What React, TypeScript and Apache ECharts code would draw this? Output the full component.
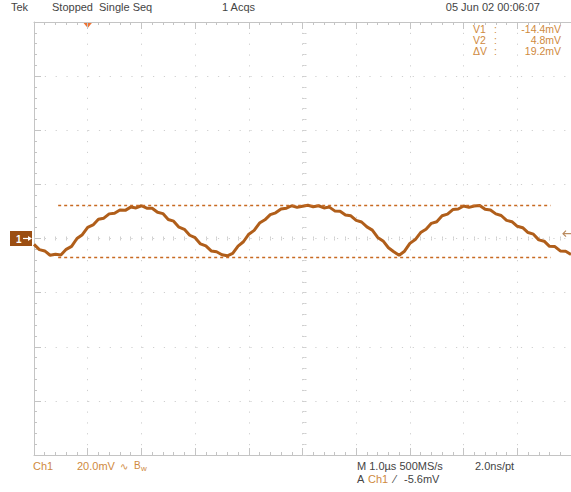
import React, { useEffect, useRef } from 'react';
import * as echarts from 'echarts';

// ---- acquisition data (Ch1, mV), one sample per 0.1 µs starting at -1.0 µs ----
const T_START_US = -1.0;
const T_STEP_US = 0.1;
const CH1_MV = [
  -9.6, -11.5, -12.0, -13.6, -13.2, -13.5, -11.4, -10.3, -7.4, -6.0,
  -3.3, -2.4, -0.3, 0.1, 1.7, 1.9, 3.1, 3.0, 4.2, 3.9,
  4.7, 3.8, 3.8, 2.3, 1.8, -0.4, -1.0, -3.2, -4.0, -6.2,
  -7.1, -9.4, -10.1, -12.0, -12.3, -13.4, -13.8, -12.9, -10.2, -8.6,
  -5.8, -4.4, -1.7, -0.5, 1.4, 2.1, 3.5, 3.8, 4.7, 4.1,
  4.5, 4.9, 4.3, 4.7, 3.9, 4.2, 2.8, 2.7, 1.3, 1.0,
  -0.7, -1.3, -3.1, -4.3, -7.0, -8.3, -10.8, -12.3, -13.6, -12.1,
  -9.2, -7.8, -5.2, -4.0, -1.8, -1.2, 1.0, 1.6, 3.3, 3.5,
  4.6, 4.1, 4.6, 4.8, 3.4, 3.1, 1.7, 1.1, -0.7, -1.2,
  -2.9, -3.4, -5.2, -5.8, -7.9, -8.4, -10.3, -10.4, -12.0, -12.1,
  -13.3,
];

// ---- scope settings ----
const X_MIN_US = -1;
const X_MAX_US = 9;
const TIME_DIV_US = 1;
const VOLT_DIV_MV = 20;
const DIVS_V = 8;
const SCREEN_CENTER_MV = -7.4;
const CURSOR_V1_MV = -14.4;
const CURSOR_V2_MV = 4.8;
const CURSOR_SPAN_US = [-0.55, 8.62];
const TRIGGER_LEVEL_MV = -5.6;

// ---- texts ----
const HEADER = ['Tek', 'Stopped', 'Single Seq', '1 Acqs', '05 Jun 02 00:06:07'];
const READOUT_LABELS = ['V1', 'V2', 'ΔV'];
const READOUT_VALUES = ['-14.4mV', '4.8mV', '19.2mV'];
const FOOTER = ['Ch1', '20.0mV', '∿', 'B', 'w', 'M 1.0µs 500MS/s', '2.0ns/pt', 'A', 'Ch1', '⁄', '-5.6mV'];

const FONT = '"Liberation Sans", Arial, sans-serif';
const FRAME = '#c4c4c4';
const DOTS = '#cfcfcf';
const ORANGE_TXT = '#cf8a3e';
const GRAY_TXT = '#444444';
const CURSOR_COLOR = '#c86a22';

function txt(text: string, x: number, y: number, fill: string, size = 11, align = 'left') {
  return {
    type: 'text',
    x,
    y,
    silent: true,
    style: {
      text,
      fill,
      font: `${size}px ${FONT}`,
      textAlign: align,
      align,
      textVerticalAlign: 'middle',
      verticalAlign: 'middle',
    },
  };
}

function frameAxis(extra: any) {
  return {
    type: 'value',
    axisLine: { show: true, onZero: false, lineStyle: { color: FRAME, width: 1 } },
    axisTick: { show: true, inside: true, length: 7, lineStyle: { color: FRAME } },
    minorTick: { show: true, splitNumber: 5, length: 3, lineStyle: { color: FRAME } },
    axisLabel: { show: false },
    splitLine: { show: false },
    ...extra,
  };
}

function centerAxis(extra: any, inside: boolean) {
  return {
    type: 'value',
    axisLine: { show: false, onZero: false },
    axisTick: { show: true, inside, length: 2, lineStyle: { color: DOTS } },
    minorTick: { show: true, splitNumber: 5, length: 2, lineStyle: { color: DOTS } },
    axisLabel: { show: false },
    splitLine: { show: false },
    ...extra,
  };
}

const dotted = { show: true, lineStyle: { color: DOTS, width: 1, type: [1.2, 9.62] } };
const halfV = (DIVS_V / 2) * VOLT_DIV_MV;
const cursorStyle = { color: CURSOR_COLOR, type: [3, 3], width: 1.3, opacity: 1 };

export default function App() {
  const ref = useRef<HTMLDivElement>(null);
  useEffect(() => {
    const chart = echarts.init(ref.current!, undefined, { renderer: 'svg' });
    const data = CH1_MV.map((v, i) => [T_START_US + i * T_STEP_US, v]);
    chart.setOption({
      animation: false,
      backgroundColor: '#ffffff',
      grid: { left: 34, top: 22, width: 541, height: 433, containLabel: false },
      xAxis: [
        frameAxis({ min: X_MIN_US, max: X_MAX_US, interval: TIME_DIV_US, position: 'bottom', splitLine: dotted }),
        frameAxis({ min: X_MIN_US, max: X_MAX_US, interval: TIME_DIV_US, position: 'top' }),
        centerAxis({ min: X_MIN_US, max: X_MAX_US, interval: TIME_DIV_US, position: 'bottom', offset: -216.5 }, true),
        centerAxis({ min: X_MIN_US, max: X_MAX_US, interval: TIME_DIV_US, position: 'bottom', offset: -216.5 }, false),
      ],
      yAxis: [
        frameAxis({ min: -DIVS_V / 2, max: DIVS_V / 2, interval: 1, position: 'left', splitLine: dotted }),
        { type: 'value', show: false, min: SCREEN_CENTER_MV - halfV, max: SCREEN_CENTER_MV + halfV },
        centerAxis({ min: -DIVS_V / 2, max: DIVS_V / 2, interval: 1, position: 'left', offset: -270.5 }, true),
        centerAxis({ min: -DIVS_V / 2, max: DIVS_V / 2, interval: 1, position: 'left', offset: -270.5 }, false),
      ],
      series: [
        {
          type: 'line',
          xAxisIndex: 0,
          yAxisIndex: 1,
          data,
          symbol: 'none',
          showSymbol: false,
          silent: true,
          z: 3,
          lineStyle: { color: '#b05e1a', width: 3 },
          markLine: {
            silent: true,
            symbol: 'none',
            label: { show: false },
            emphasis: { disabled: true },
            lineStyle: cursorStyle,
            data: [
              [
                { coord: [CURSOR_SPAN_US[0], CURSOR_V2_MV], lineStyle: cursorStyle },
                { coord: [CURSOR_SPAN_US[1], CURSOR_V2_MV] },
              ],
              [
                { coord: [CURSOR_SPAN_US[0], CURSOR_V1_MV], lineStyle: cursorStyle },
                { coord: [CURSOR_SPAN_US[1], CURSOR_V1_MV] },
              ],
            ],
          },
        },
      ],
    });

    const gy = chart.convertToPixel({ yAxisIndex: 0 }, 0) as number;
    const ty = chart.convertToPixel({ yAxisIndex: 1 }, TRIGGER_LEVEL_MV) as number;
    const tx = chart.convertToPixel({ xAxisIndex: 0 }, 0) as number;

    const g: any[] = [
      txt(HEADER[0], 11, 7, GRAY_TXT),
      txt(HEADER[1], 52, 7, GRAY_TXT),
      txt(HEADER[2], 99, 7, GRAY_TXT),
      txt(HEADER[3], 222, 7, GRAY_TXT),
      txt(HEADER[4], 540, 7, GRAY_TXT, 11, 'right'),
    ];
    READOUT_LABELS.forEach((l, i) => {
      const y = 29 + i * 11;
      g.push(txt(l, 473, y, ORANGE_TXT, 10.5));
      g.push(txt(':', 494, y, ORANGE_TXT, 10.5));
      g.push(txt(READOUT_VALUES[i], 561, y, ORANGE_TXT, 10.5, 'right'));
    });
    g.push(txt(FOOTER[0], 33, 466, ORANGE_TXT));
    g.push(txt(FOOTER[1], 77, 466, ORANGE_TXT));
    g.push(txt(FOOTER[2], 120, 466, ORANGE_TXT, 10));
    g.push(txt(FOOTER[3], 134, 465, ORANGE_TXT, 10));
    g.push(txt(FOOTER[4], 141, 468, ORANGE_TXT, 8));
    g.push(txt(FOOTER[5], 357, 466, GRAY_TXT));
    g.push(txt(FOOTER[6], 475, 466, GRAY_TXT));
    g.push(txt(FOOTER[7], 357, 479, GRAY_TXT));
    g.push(txt(FOOTER[8], 368, 479, ORANGE_TXT));
    g.push(txt(FOOTER[9], 394, 479, GRAY_TXT));
    g.push(txt(FOOTER[10], 404, 479, GRAY_TXT));

    // trigger position marker
    g.push({
      type: 'polygon',
      silent: true,
      shape: { points: [[tx - 5, 22], [tx + 5, 22], [tx, 28]] },
      style: { fill: '#ef7434' },
    });
    // ground reference marker (Ch1)
    g.push({
      type: 'group',
      x: 10,
      y: gy - 7.5,
      silent: true,
      children: [
        { type: 'rect', shape: { x: 0, y: 0, width: 22, height: 15 }, style: { fill: '#9b4e12' } },
        {
          type: 'text',
          x: 6,
          y: 8,
          style: { text: '1', fill: '#ffffff', font: `bold 10px ${FONT}`, textVerticalAlign: 'middle', verticalAlign: 'middle' },
        },
        { type: 'line', shape: { x1: 13, y1: 7.5, x2: 20, y2: 7.5 }, style: { stroke: '#ffffff', lineWidth: 1.2 } },
        { type: 'polygon', shape: { points: [[18, 5], [22, 7.5], [18, 10]] }, style: { fill: '#ffffff' } },
      ],
    });
    // trigger level arrow
    g.push({
      type: 'group',
      silent: true,
      children: [
        { type: 'line', shape: { x1: 563, y1: ty, x2: 571, y2: ty }, style: { stroke: '#b9895c', lineWidth: 1.2 } },
        { type: 'polyline', shape: { points: [[566, ty - 3], [563, ty], [566, ty + 3]] }, style: { stroke: '#b9895c', lineWidth: 1.2, fill: 'none' } },
      ],
    });

    chart.setOption({ graphic: g });
    return () => chart.dispose();
  }, []);
  return <div ref={ref} style={{ position: 'fixed', left: 0, top: 0, width: 571, height: 492 }} />;
}
